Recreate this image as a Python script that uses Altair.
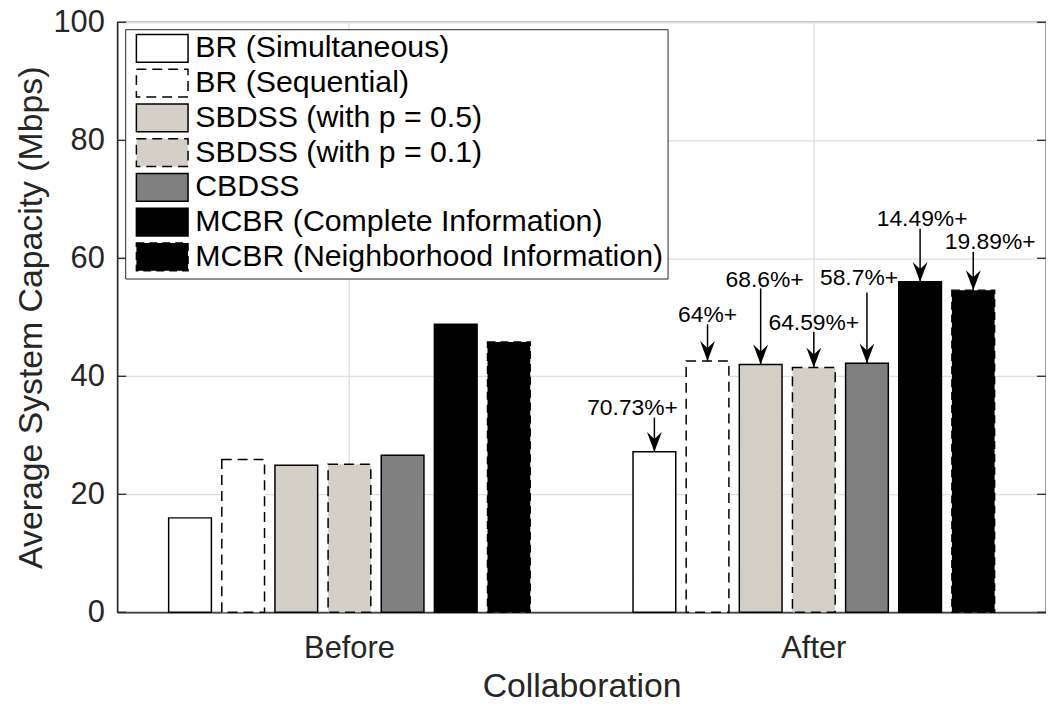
import altair as alt
import pandas as pd

# ---------------- data ----------------
groups = ["Before", "After"]
series = [
    "BR (Simultaneous)",
    "BR (Sequential)",
    "SBDSS (with p = 0.5)",
    "SBDSS (with p = 0.1)",
    "CBDSS",
    "MCBR (Complete Information)",
    "MCBR (Neighborhood Information)",
]
before_vals = [16.0, 25.9, 24.9, 25.1, 26.6, 48.8, 45.8]
after_vals = [27.2, 42.6, 42.0, 41.5, 42.2, 56.0, 54.6]

gain_labels = ["70.73%+", "64%+", "68.6%+", "64.59%+", "58.7%+", "14.49%+", "19.89%+"]
arrow_start = [33.0, 48.8, 54.9, 47.5, 54.2, 65.0, 61.1]
label_base = [33.5, 49.2, 55.05, 47.8, 55.4, 65.5, 61.6]
label_dx = [-22, 0, 4, 0, -8, 2, 17]

tick_values = [0, 20, 40, 60, 80, 100]

# ---------------- styles ----------------
fills = ["#ffffff", "#ffffff", "#d4d0c8", "#d4d0c8", "#808080", "#000000", "#000000"]
edges = ["#000000"] * 7
dash_patterns = [[1, 0], [10, 6], [1, 0], [10, 6], [1, 0], [1, 0], [8, 5]]
edge_widths = [1.5, 1.5, 1.5, 1.5, 1.5, 1.5, 3.5]

FONT = "Liberation Sans"
AXC = "#262626"

rows = []
for g, vals in zip(groups, [before_vals, after_vals]):
    for s, v in zip(series, vals):
        rows.append({"group": g, "series": s, "value": v})
bars_df = pd.DataFrame(rows)

ann_df = pd.DataFrame({
    "group": ["After"] * len(series),
    "series": series,
    "value": after_vals,
    "start": arrow_start,
    "label_y": label_base,
    "label": gain_labels,
})
tick_df = pd.DataFrame({"tick": tick_values})

x_enc = alt.X(
    "group:N",
    sort=groups,
    scale=alt.Scale(domain=groups, paddingInner=0, paddingOuter=0),
    axis=alt.Axis(
        title="Collaboration", labelAngle=0, ticks=False, labelPadding=22,
        labelFontSize=31, titleFontSize=34, labelFont=FONT, titleFont=FONT,
        labelColor=AXC, titleColor=AXC, titleFontWeight="normal",
        titlePadding=6, grid=True, gridColor="#dfdfdf", gridWidth=1.3,
        domainColor=AXC, domainWidth=1.3, bandPosition=0.5,
    ),
)
xoff_enc = alt.XOffset(
    "series:N", sort=series,
    scale=alt.Scale(domain=series, paddingInner=0.196, paddingOuter=0.967),
)
y_enc = alt.Y(
    "value:Q",
    scale=alt.Scale(domain=[0, 100], nice=False),
    axis=alt.Axis(
        values=tick_values, title="Average System Capacity (Mbps)", ticks=False,
        labelPadding=13, labelFontSize=31, titleFontSize=34, labelFont=FONT,
        titleFont=FONT, labelColor=AXC, titleColor=AXC, titleFontWeight="normal",
        titlePadding=5, gridColor="#dfdfdf", gridWidth=1.3, domainColor=AXC,
        domainWidth=1.3,
    ),
)

legend = alt.Legend(
    title=None, orient="none", legendX=8, legendY=7,
    symbolType="M-0.571,-1H3.143V1H-0.571Z", symbolSize=784,
    labelFont=FONT, labelFontSize=30.5,
    labelColor="black", labelOffset=36, labelLimit=800, rowPadding=0,
    padding=4, fillColor="white", strokeColor=AXC,
)

bars = alt.Chart(bars_df).mark_bar().encode(
    x=x_enc,
    xOffset=xoff_enc,
    y=y_enc,
    fill=alt.Fill("series:N", sort=series, scale=alt.Scale(domain=series, range=fills), legend=legend),
    stroke=alt.Stroke("series:N", sort=series, scale=alt.Scale(domain=series, range=edges), legend=legend),
    strokeDash=alt.StrokeDash("series:N", sort=series, scale=alt.Scale(domain=series, range=dash_patterns), legend=legend),
    strokeWidth=alt.StrokeWidth("series:N", sort=series, scale=alt.Scale(domain=series, range=edge_widths), legend=legend),
)

rules = alt.Chart(ann_df).mark_rule(color="black", strokeWidth=1.5).encode(
    x=alt.X("group:N", sort=groups), xOffset=alt.XOffset("series:N", sort=series),
    y=alt.Y("start:Q"), y2="value:Q",
)
heads = alt.Chart(ann_df).mark_point(
    shape="M0,0L-0.75,-2L0,-1.3L0.75,-2Z", filled=True, color="black",
    size=400, opacity=1,
).encode(
    x=alt.X("group:N", sort=groups), xOffset=alt.XOffset("series:N", sort=series),
    y=alt.Y("value:Q"),
)
texts = []
for i in range(len(series)):
    texts.append(
        alt.Chart(ann_df.iloc[[i]]).mark_text(
            dx=label_dx[i], baseline="alphabetic", align="center",
            fontSize=23, font=FONT, color="black",
        ).encode(
            x=alt.X("group:N", sort=groups), xOffset=alt.XOffset("series:N", sort=series),
            y=alt.Y("label_y:Q"), text="label:N",
        )
    )

left_ticks = alt.Chart(tick_df).mark_rule(color=AXC, strokeWidth=1.3).encode(
    y="tick:Q", x=alt.value(0), x2=alt.value(9)
)
right_ticks = alt.Chart(tick_df).mark_rule(color=AXC, strokeWidth=1.3).encode(
    y="tick:Q", x=alt.value(926), x2=alt.value(935)
)

chart = alt.layer(bars, rules, heads, *texts, left_ticks, right_ticks).properties(
    width=935, height=594,
    padding={"left": 110, "top": 12, "right": 0, "bottom": 92},
    autosize=alt.AutoSizeParams(type="none"),
).configure_view(stroke=AXC, strokeWidth=1.3)

chart.save("out.html", embed_options={"renderer": "svg", "actions": False})
